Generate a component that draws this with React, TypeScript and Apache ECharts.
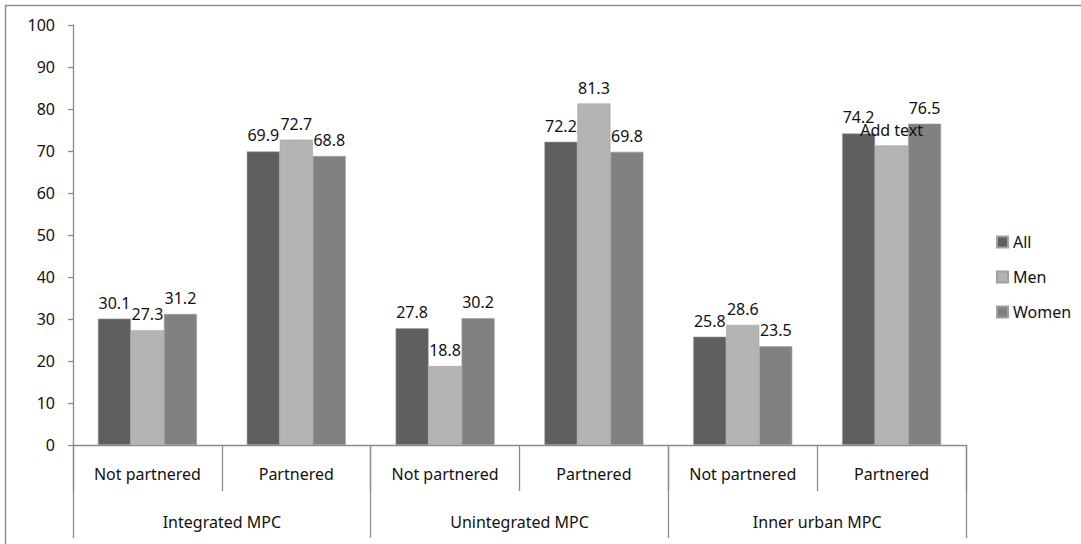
import React, { useEffect, useRef } from "react";
import * as echarts from "echarts";

const subCategories = ["Not partnered", "Partnered", "Not partnered", "Partnered", "Not partnered", "Partnered"];
const groupCategories = ["Integrated MPC", "Unintegrated MPC", "Inner urban MPC"];
const seriesNames = ["All", "Men", "Women"];
const allValues = [30.1, 69.9, 27.8, 72.2, 25.8, 74.2];
const menValues = [27.3, 72.7, 18.8, 81.3, 28.6, 71.3];
const womenValues = [31.2, 68.8, 30.2, 69.8, 23.5, 76.5];
const menLabelOverrides: (string | null)[] = [null, null, null, null, null, "Add text"];
const colors = ["#5f5f5f", "#b4b4b4", "#818181"];

const FONT = "Noto Sans";

export default function App() {
  const ref = useRef<HTMLDivElement>(null);
  useEffect(() => {
    if (!ref.current) return;
    const chart = echarts.init(ref.current, null, { renderer: "svg" });
    const textStyle = { color: "#111", fontFamily: FONT, fontSize: 16 };
    const axisColor = "#8c8c8c";
    const mkSeries = (name: string, values: number[], color: string, overrides?: (string | null)[]) => ({
      name,
      type: "bar",
      xAxisIndex: 0,
      yAxisIndex: 0,
      barWidth: 33,
      barGap: "0%",
      itemStyle: { color, borderColor: "#a0a0a0", borderWidth: 0.6 },
      label: {
        show: true,
        position: "top",
        distance: 8,
        ...textStyle,
      },
      data: values.map((v, i) =>
        overrides && overrides[i] ? { value: v, label: { formatter: overrides[i] as string } } : v
      ),
    });
    chart.setOption({
      animation: false,
      backgroundColor: "#fff",
      textStyle: { fontFamily: FONT },
      grid: { left: 73, right: 115, top: 25, bottom: 99, containLabel: false },
      legend: {
        orient: "vertical",
        left: 991,
        top: 229,
        itemWidth: 11,
        itemHeight: 11,
        itemGap: 19,
        icon: "rect",
        textStyle: { ...textStyle, padding: [0, 0, 0, 0] },
        data: seriesNames,
      },
      xAxis: [
        {
          type: "category",
          data: subCategories,
          position: "bottom",
          axisLine: { show: true, lineStyle: { color: axisColor, width: 1.3 } },
          axisTick: { show: true, length: 46, interval: 0, alignWithLabel: false, lineStyle: { color: axisColor, width: 1.3 } },
          axisLabel: { ...textStyle, margin: 21, interval: 0 },
        },
        {
          type: "category",
          data: groupCategories,
          position: "bottom",
          axisLine: { show: false },
          axisTick: { show: true, length: 93, interval: 0, alignWithLabel: false, lineStyle: { color: axisColor, width: 1.3 } },
          axisLabel: { ...textStyle, margin: 69, interval: 0 },
        },
      ],
      yAxis: {
        type: "value",
        min: 0,
        max: 100,
        interval: 10,
        splitLine: { show: false },
        axisLine: { show: true, lineStyle: { color: axisColor, width: 1.3 } },
        axisTick: { show: true, length: 5, lineStyle: { color: axisColor, width: 1.3 } },
        axisLabel: { ...textStyle, margin: 18 },
      },
      graphic: [
        {
          type: "rect",
          shape: { x: 5.5, y: 5.5, width: 1200, height: 600 },
          style: { fill: "none", stroke: "#8f8f8f", lineWidth: 1.5 },
          silent: true,
          z: -1,
        },
      ],
      series: [
        mkSeries(seriesNames[0], allValues, colors[0]),
        mkSeries(seriesNames[1], menValues, colors[1], menLabelOverrides),
        mkSeries(seriesNames[2], womenValues, colors[2]),
      ],
    });
    return () => chart.dispose();
  }, []);
  return (
    <div
      ref={ref}
      style={{ position: "absolute", left: 0, top: 0, width: 1081, height: 544 }}
    />
  );
}
